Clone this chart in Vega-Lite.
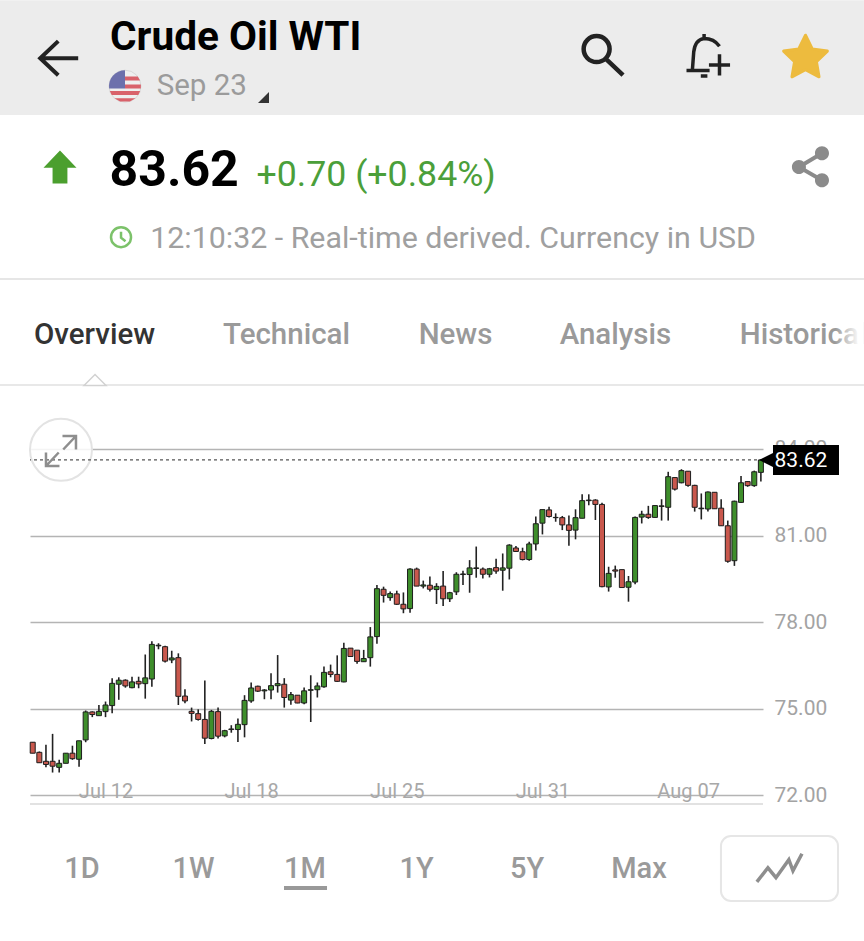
{
  "$schema": "https://vega.github.io/schema/vega-lite/v6.json",
  "width": 733,
  "height": 374,
  "autosize": "none",
  "padding": {"left": 30, "top": 430, "right": 101, "bottom": 137},
  "background": "#ffffff",
  "view": {"stroke": null},
  "data": {"name": "screen"},
  "datasets": {
    "screen": [{"name": "Crude Oil WTI"}],
    "candles": [
      {"bar":0,"open":73.84,"high":73.84,"low":73.46,"close":73.46},
      {"bar":1,"open":73.49,"high":73.52,"low":73.13,"close":73.13},
      {"bar":2,"open":73.18,"high":73.75,"low":72.97,"close":73.07},
      {"bar":3,"open":73.18,"high":74.13,"low":72.79,"close":73.01},
      {"bar":4,"open":72.97,"high":73.23,"low":72.79,"close":73.11},
      {"bar":5,"open":73.11,"high":73.46,"low":73.11,"close":73.46},
      {"bar":6,"open":73.46,"high":73.72,"low":73.23,"close":73.27},
      {"bar":7,"open":73.25,"high":73.89,"low":72.99,"close":73.89},
      {"bar":8,"open":73.92,"high":74.94,"low":73.84,"close":74.89},
      {"bar":9,"open":74.89,"high":74.91,"low":74.71,"close":74.80},
      {"bar":10,"open":74.76,"high":75.13,"low":74.76,"close":74.91},
      {"bar":11,"open":74.90,"high":75.25,"low":74.71,"close":75.13},
      {"bar":12,"open":75.11,"high":76.06,"low":74.84,"close":75.88},
      {"bar":13,"open":75.85,"high":76.09,"low":75.31,"close":75.99},
      {"bar":14,"open":75.99,"high":76.02,"low":75.73,"close":75.79},
      {"bar":15,"open":75.73,"high":76.11,"low":75.71,"close":75.93},
      {"bar":16,"open":75.95,"high":76.11,"low":75.71,"close":75.86},
      {"bar":17,"open":75.87,"high":76.88,"low":75.35,"close":76.07},
      {"bar":18,"open":76.03,"high":77.34,"low":75.76,"close":77.23},
      {"bar":19,"open":77.18,"high":77.27,"low":77.06,"close":77.20},
      {"bar":20,"open":77.15,"high":77.18,"low":76.60,"close":76.65},
      {"bar":21,"open":76.69,"high":77.01,"low":76.58,"close":76.76},
      {"bar":22,"open":76.77,"high":76.92,"low":75.13,"close":75.43},
      {"bar":23,"open":75.44,"high":75.68,"low":75.19,"close":75.27},
      {"bar":24,"open":74.91,"high":75.04,"low":74.56,"close":74.84},
      {"bar":25,"open":74.83,"high":74.98,"low":74.59,"close":74.63},
      {"bar":26,"open":74.63,"high":75.98,"low":73.78,"close":73.98},
      {"bar":27,"open":73.97,"high":74.96,"low":73.94,"close":74.91},
      {"bar":28,"open":74.90,"high":75.04,"low":73.97,"close":74.05},
      {"bar":29,"open":74.06,"high":74.27,"low":74.01,"close":74.24},
      {"bar":30,"open":74.28,"high":74.43,"low":74.17,"close":74.30},
      {"bar":31,"open":74.28,"high":74.66,"low":73.85,"close":74.46},
      {"bar":32,"open":74.45,"high":75.47,"low":74.01,"close":75.29},
      {"bar":33,"open":75.27,"high":75.91,"low":75.21,"close":75.72},
      {"bar":34,"open":75.78,"high":75.80,"low":75.58,"close":75.61},
      {"bar":35,"open":75.62,"high":75.68,"low":75.33,"close":75.65},
      {"bar":36,"open":75.65,"high":76.23,"low":75.33,"close":75.80},
      {"bar":37,"open":75.80,"high":76.86,"low":75.56,"close":75.87},
      {"bar":38,"open":75.85,"high":76.06,"low":75.04,"close":75.39},
      {"bar":39,"open":75.30,"high":75.58,"low":75.14,"close":75.49},
      {"bar":40,"open":75.47,"high":75.47,"low":75.19,"close":75.20},
      {"bar":41,"open":75.20,"high":75.74,"low":75.16,"close":75.62},
      {"bar":42,"open":75.64,"high":76.16,"low":74.54,"close":75.66},
      {"bar":43,"open":75.66,"high":75.91,"low":75.39,"close":75.79},
      {"bar":44,"open":75.76,"high":76.46,"low":75.73,"close":76.26},
      {"bar":45,"open":76.28,"high":76.53,"low":76.09,"close":76.19},
      {"bar":46,"open":76.19,"high":76.85,"low":75.93,"close":75.95},
      {"bar":47,"open":75.93,"high":77.29,"low":75.92,"close":77.09},
      {"bar":48,"open":77.10,"high":77.10,"low":76.81,"close":76.81},
      {"bar":49,"open":77.03,"high":77.03,"low":76.56,"close":76.64},
      {"bar":50,"open":76.63,"high":77.04,"low":76.63,"close":76.74},
      {"bar":51,"open":76.77,"high":77.83,"low":76.46,"close":77.49},
      {"bar":52,"open":77.50,"high":79.29,"low":77.25,"close":79.16},
      {"bar":53,"open":79.14,"high":79.23,"low":78.68,"close":78.93},
      {"bar":54,"open":78.85,"high":79.06,"low":78.74,"close":78.99},
      {"bar":55,"open":78.98,"high":79.09,"low":78.60,"close":78.62},
      {"bar":56,"open":78.62,"high":79.03,"low":78.31,"close":78.46},
      {"bar":57,"open":78.47,"high":79.87,"low":78.33,"close":79.84},
      {"bar":58,"open":79.84,"high":79.89,"low":79.25,"close":79.25},
      {"bar":59,"open":79.25,"high":79.44,"low":79.17,"close":79.29},
      {"bar":60,"open":79.28,"high":79.58,"low":79.06,"close":79.14},
      {"bar":61,"open":79.13,"high":79.35,"low":78.63,"close":79.24},
      {"bar":62,"open":79.25,"high":79.77,"low":78.56,"close":78.81},
      {"bar":63,"open":78.81,"high":79.05,"low":78.70,"close":79.02},
      {"bar":64,"open":79.05,"high":79.73,"low":78.94,"close":79.66},
      {"bar":65,"open":79.65,"high":79.78,"low":79.29,"close":79.67},
      {"bar":66,"open":79.65,"high":80.15,"low":79.02,"close":79.88},
      {"bar":67,"open":79.86,"high":80.62,"low":79.54,"close":79.88},
      {"bar":68,"open":79.84,"high":79.89,"low":79.51,"close":79.66},
      {"bar":69,"open":79.66,"high":79.88,"low":79.55,"close":79.85},
      {"bar":70,"open":79.89,"high":80.20,"low":79.68,"close":79.77},
      {"bar":71,"open":79.80,"high":80.38,"low":79.09,"close":79.88},
      {"bar":72,"open":79.87,"high":80.70,"low":79.48,"close":80.67},
      {"bar":73,"open":80.57,"high":80.64,"low":80.43,"close":80.45},
      {"bar":74,"open":80.44,"high":80.58,"low":80.14,"close":80.17},
      {"bar":75,"open":80.17,"high":80.79,"low":80.13,"close":80.71},
      {"bar":76,"open":80.71,"high":81.66,"low":80.48,"close":81.41},
      {"bar":77,"open":81.43,"high":81.90,"low":81.04,"close":81.90},
      {"bar":78,"open":81.89,"high":82.00,"low":81.63,"close":81.66},
      {"bar":79,"open":81.62,"high":81.77,"low":81.48,"close":81.63},
      {"bar":80,"open":81.62,"high":81.68,"low":81.19,"close":81.37},
      {"bar":81,"open":81.37,"high":81.70,"low":80.65,"close":81.18},
      {"bar":82,"open":81.19,"high":81.91,"low":80.87,"close":81.62},
      {"bar":83,"open":81.60,"high":82.43,"low":81.60,"close":82.21},
      {"bar":84,"open":82.21,"high":82.43,"low":82.05,"close":82.23},
      {"bar":85,"open":82.23,"high":82.26,"low":81.54,"close":82.08},
      {"bar":86,"open":82.08,"high":82.14,"low":79.21,"close":79.23},
      {"bar":87,"open":79.22,"high":79.92,"low":79.06,"close":79.69},
      {"bar":88,"open":79.81,"high":79.96,"low":79.54,"close":79.77},
      {"bar":89,"open":79.82,"high":79.82,"low":79.20,"close":79.20},
      {"bar":90,"open":79.21,"high":79.60,"low":78.71,"close":79.40},
      {"bar":91,"open":79.39,"high":81.66,"low":79.31,"close":81.63},
      {"bar":92,"open":81.64,"high":81.86,"low":81.42,"close":81.74},
      {"bar":93,"open":81.74,"high":82.03,"low":81.58,"close":81.63},
      {"bar":94,"open":81.63,"high":82.04,"low":81.63,"close":82.04},
      {"bar":95,"open":82.01,"high":82.26,"low":81.52,"close":82.03},
      {"bar":96,"open":81.98,"high":83.21,"low":81.52,"close":83.04},
      {"bar":97,"open":83.01,"high":83.01,"low":82.56,"close":82.61},
      {"bar":98,"open":82.83,"high":83.30,"low":82.81,"close":83.25},
      {"bar":99,"open":83.23,"high":83.23,"low":82.69,"close":82.74},
      {"bar":100,"open":82.74,"high":82.76,"low":81.83,"close":81.98},
      {"bar":101,"open":81.93,"high":82.46,"low":81.56,"close":81.95},
      {"bar":102,"open":81.92,"high":82.53,"low":81.83,"close":82.51},
      {"bar":103,"open":82.50,"high":82.50,"low":81.93,"close":81.93},
      {"bar":104,"open":81.95,"high":82.26,"low":81.34,"close":81.34},
      {"bar":105,"open":81.34,"high":81.52,"low":80.06,"close":80.11},
      {"bar":106,"open":80.13,"high":82.21,"low":79.95,"close":82.19},
      {"bar":107,"open":82.15,"high":83.06,"low":82.13,"close":82.83},
      {"bar":108,"open":82.87,"high":82.88,"low":82.69,"close":82.73},
      {"bar":109,"open":82.73,"high":83.25,"low":82.69,"close":83.21},
      {"bar":110,"open":83.19,"high":83.64,"low":82.87,"close":83.62}
    ]
  },
  "layer": [
    {
      "data": {"name": "candles"},
      "mark": {"type": "rule", "color": "#222222", "strokeWidth": 1.6},
      "encoding": {
        "x": {
          "field": "bar",
          "type": "quantitative",
          "scale": {"domain": [-0.41, 110.32], "nice": false, "zero": false, "padding": 0},
          "axis": {
            "title": null,
            "orient": "bottom",
            "grid": false,
            "domain": false,
            "ticks": false,
            "values": [11, 33, 55, 77, 99],
            "labelExpr": "datum.value == 11 ? 'Jul 12' : datum.value == 33 ? 'Jul 18' : datum.value == 55 ? 'Jul 25' : datum.value == 77 ? 'Jul 31' : 'Aug 07'",
            "labelFont": "Roboto",
            "labelFontSize": 20,
            "labelColor": "#a8a8a8",
            "labelBaseline": "alphabetic",
            "labelPadding": -7
          }
        },
        "y": {
          "field": "low",
          "type": "quantitative",
          "scale": {"domain": [71.7, 84.658], "nice": false, "zero": false},
          "axis": {
            "title": null,
            "orient": "right",
            "grid": true,
            "gridColor": "#b4b4b4",
            "gridWidth": 1.3,
            "domain": false,
            "ticks": false,
            "values": [72, 75, 78, 81, 84],
            "format": ".2f",
            "labelFont": "Roboto",
            "labelFontSize": 21,
            "labelColor": "#a3a3a3",
            "labelPadding": 11
          }
        },
        "y2": {"field": "high"}
      }
    },
    {
      "data": {"name": "candles"},
      "mark": {"type": "bar", "size": 5, "stroke": "#1d1d1d", "strokeWidth": 1},
      "encoding": {
        "x": {"field": "bar", "type": "quantitative"},
        "y": {"field": "open", "type": "quantitative"},
        "y2": {"field": "close"},
        "fill": {
          "condition": {"test": "datum.close >= datum.open", "value": "#3e8e2b"},
          "value": "#c9584d"
        }
      }
    },
    {
      "mark": {"type": "rule", "color": "#e2e2e2", "strokeWidth": 2},
      "encoding": {"y": {"datum": 71.7}}
    },
    {
      "mark": {"type": "point", "shape": "circle", "filled": true, "fill": "#ffffff", "fillOpacity": 0.85, "stroke": "#e3e3e3", "strokeWidth": 2, "size": 3844, "opacity": 1},
      "encoding": {"x": {"datum": 4.27}, "y": {"datum": 83.97}}
    },
    {
      "mark": {"type": "rule", "color": "#555555", "strokeWidth": 1.2, "strokeDash": [3, 3]},
      "encoding": {"y": {"datum": 83.62}}
    },
    {
      "mark": {"type": "point", "shape": "M0.15,-0.1 L1,-1 M0.1,-1 L1,-1 L1,-0.1 M-0.15,0.1 L-1,1 M-1,0.1 L-1,1 L-0.1,1", "filled": false, "stroke": "#8e8e8e", "strokeWidth": 2.5, "opacity": 1, "size": 900},
      "encoding": {"x": {"datum": 4.27}, "y": {"datum": 83.93}}
    },
    {
      "mark": {"type": "rect", "color": "#000000"},
      "encoding": {"x": {"datum": 111.83}, "x2": {"datum": 121.8}, "y": {"datum": 84.14}, "y2": {"datum": 83.1}}
    },
    {
      "mark": {"type": "point", "shape": "M1,-1 L1,1 L-1,0 Z", "filled": true, "fill": "#000000", "opacity": 1, "size": 324},
      "encoding": {"x": {"datum": 111.07}, "y": {"datum": 83.62}}
    },
    {
      "mark": {"type": "text", "text": "83.62", "font": "Roboto", "fontSize": 21, "color": "#ffffff", "align": "center", "baseline": "middle"},
      "encoding": {"x": {"datum": 116.05}, "y": {"datum": 83.6}}
    },
    {
      "mark": {"type": "rect", "color": "#ececec"},
      "encoding": {"x": {"datum": -4.94}, "x2": {"datum": 125.57}, "y": {"datum": 99.55}, "y2": {"datum": 95.57}}
    },
    {
      "mark": {"type": "rule", "color": "#e6e6e6", "strokeWidth": 2},
      "encoding": {"x": {"datum": -4.94}, "x2": {"datum": 125.57}, "y": {"datum": 89.89}}
    },
    {
      "mark": {"type": "rule", "color": "#e8e8e8", "strokeWidth": 2},
      "encoding": {"x": {"datum": -4.94}, "x2": {"datum": 125.57}, "y": {"datum": 86.22}}
    },
    {
      "mark": {"type": "point", "shape": "M-1,0.5 L0,-0.5 L1,0.5 Z", "filled": true, "fill": "#ffffff", "stroke": "#d2d2d2", "strokeWidth": 1.5, "opacity": 1, "size": 484},
      "encoding": {"x": {"datum": 9.41}, "y": {"datum": 86.39}}
    },
    {
      "mark": {"type": "text", "text": "Crude Oil WTI", "font": "Roboto", "fontWeight": "bold", "fontSize": 40.6, "color": "#000000", "align": "left", "baseline": "alphabetic"},
      "encoding": {"x": {"datum": 11.68}, "y": {"datum": 97.82}}
    },
    {
      "mark": {"type": "text", "text": "Sep 23", "font": "Roboto", "fontSize": 29.5, "color": "#9b9b9b", "align": "left", "baseline": "alphabetic"},
      "encoding": {"x": {"datum": 18.72}, "y": {"datum": 96.26}}
    },
    {
      "mark": {"type": "text", "text": "83.62", "font": "Roboto", "fontWeight": "bold", "fontSize": 50, "color": "#000000", "align": "left", "baseline": "alphabetic"},
      "encoding": {"x": {"datum": 11.6}, "y": {"datum": 93.11}}
    },
    {
      "mark": {"type": "text", "text": "+0.70 (+0.84%)", "font": "Roboto", "fontSize": 35.7, "color": "#4b9f3a", "align": "left", "baseline": "alphabetic"},
      "encoding": {"x": {"datum": 33.8}, "y": {"datum": 93.11}}
    },
    {
      "mark": {"type": "text", "text": "12:10:32 - Real-time derived. Currency in USD", "font": "Roboto", "fontSize": 30.35, "color": "#a0a0a0", "align": "left", "baseline": "alphabetic"},
      "encoding": {"x": {"datum": 17.75}, "y": {"datum": 90.96}}
    },
    {
      "mark": {"type": "text", "text": "Overview", "font": "Roboto", "fontWeight": 500, "fontSize": 29.5, "color": "#333333", "align": "left", "baseline": "alphabetic"},
      "encoding": {"x": {"datum": 0.2}, "y": {"datum": 87.64}}
    },
    {
      "mark": {"type": "text", "text": "Technical", "font": "Roboto", "fontWeight": 500, "fontSize": 29.5, "color": "#9a9a9a", "align": "left", "baseline": "alphabetic"},
      "encoding": {"x": {"datum": 28.75}, "y": {"datum": 87.64}}
    },
    {
      "mark": {"type": "text", "text": "News", "font": "Roboto", "fontWeight": 500, "fontSize": 29.5, "color": "#9a9a9a", "align": "left", "baseline": "alphabetic"},
      "encoding": {"x": {"datum": 58.3}, "y": {"datum": 87.64}}
    },
    {
      "mark": {"type": "text", "text": "Analysis", "font": "Roboto", "fontWeight": 500, "fontSize": 29.5, "color": "#9a9a9a", "align": "left", "baseline": "alphabetic"},
      "encoding": {"x": {"datum": 79.6}, "y": {"datum": 87.64}}
    },
    {
      "mark": {"type": "text", "text": "Historical", "font": "Roboto", "fontWeight": 500, "fontSize": 29.5, "color": "#9a9a9a", "align": "left", "baseline": "alphabetic"},
      "encoding": {"x": {"datum": 106.8}, "y": {"datum": 87.64}}
    },
    {
      "mark": {
        "type": "rect",
        "color": {
          "gradient": "linear",
          "x1": 0,
          "x2": 1,
          "y1": 0,
          "y2": 0,
          "stops": [{"offset": 0, "color": "rgba(255,255,255,0)"}, {"offset": 0.85, "color": "#ffffff"}, {"offset": 1, "color": "#ffffff"}]
        }
      },
      "encoding": {"x": {"datum": 121.18}, "x2": {"datum": 125.57}, "y": {"datum": 88.47}, "y2": {"datum": 87.43}}
    },
    {
      "mark": {"type": "text", "text": "1D", "font": "Roboto", "fontWeight": 500, "fontSize": 29, "color": "#9a9a9a", "align": "center", "baseline": "alphabetic"},
      "encoding": {"x": {"datum": 7.45}, "y": {"datum": 69.14}}
    },
    {
      "mark": {"type": "text", "text": "1W", "font": "Roboto", "fontWeight": 500, "fontSize": 29, "color": "#9a9a9a", "align": "center", "baseline": "alphabetic"},
      "encoding": {"x": {"datum": 24.3}, "y": {"datum": 69.14}}
    },
    {
      "mark": {"type": "text", "text": "1M", "font": "Roboto", "fontWeight": 500, "fontSize": 29, "color": "#9a9a9a", "align": "center", "baseline": "alphabetic"},
      "encoding": {"x": {"datum": 41.13}, "y": {"datum": 69.14}}
    },
    {
      "mark": {"type": "text", "text": "1Y", "font": "Roboto", "fontWeight": 500, "fontSize": 29, "color": "#9a9a9a", "align": "center", "baseline": "alphabetic"},
      "encoding": {"x": {"datum": 58.0}, "y": {"datum": 69.14}}
    },
    {
      "mark": {"type": "text", "text": "5Y", "font": "Roboto", "fontWeight": 500, "fontSize": 29, "color": "#9a9a9a", "align": "center", "baseline": "alphabetic"},
      "encoding": {"x": {"datum": 74.67}, "y": {"datum": 69.14}}
    },
    {
      "mark": {"type": "text", "text": "Max", "font": "Roboto", "fontWeight": 500, "fontSize": 29, "color": "#9a9a9a", "align": "center", "baseline": "alphabetic"},
      "encoding": {"x": {"datum": 91.59}, "y": {"datum": 69.14}}
    },
    {
      "mark": {"type": "rect", "color": "#999999"},
      "encoding": {"x": {"datum": 37.96}, "x2": {"datum": 44.46}, "y": {"datum": 68.86}, "y2": {"datum": 68.72}}
    },
    {
      "mark": {"type": "rect", "fill": "#ffffff", "stroke": "#e6e6e6", "strokeWidth": 2, "cornerRadius": 10},
      "encoding": {"x": {"datum": 103.97}, "x2": {"datum": 121.65}, "y": {"datum": 70.59}, "y2": {"datum": 68.34}}
    },
    {
      "mark": {"type": "point", "shape": "M-0.96,0.61 L-0.48,0 L-0.13,0.43 L0.43,-0.35 L0.61,0.13 L1,-0.61", "filled": false, "stroke": "#8e8e8e", "strokeWidth": 3.5, "opacity": 1, "size": 2116},
      "encoding": {"x": {"datum": 112.73}, "y": {"datum": 69.49}}
    },
    {
      "mark": {"type": "point", "shape": "M1,0 L-1,0 M-0.05,-0.9 L-1,0 L-0.05,0.9", "filled": false, "stroke": "#222222", "strokeWidth": 4, "opacity": 1, "size": 1444},
      "encoding": {"x": {"datum": 4.0}, "y": {"datum": 97.54}}
    },
    {
      "mark": {"type": "point", "shape": "circle", "filled": true, "fill": "#efefef", "stroke": "#d8d8d8", "strokeWidth": 1, "opacity": 1, "size": 1024},
      "encoding": {"x": {"datum": 13.94}, "y": {"datum": 96.57}}
    },
    {
      "mark": {"type": "point", "shape": "M0,-0.6 L0.8,-0.6 L0.94,-0.35 L0,-0.35 Z M0,-0.1 L0.995,-0.1 L0.99,0.15 L0,0.15 Z M-0.95,0.3 L0.95,0.3 L0.83,0.55 L-0.83,0.55 Z M-0.66,0.75 L0.66,0.75 L0.31,0.95 L-0.31,0.95 Z", "filled": true, "fill": "#d9626b", "opacity": 1, "size": 1024},
      "encoding": {"x": {"datum": 13.94}, "y": {"datum": 96.57}}
    },
    {
      "mark": {"type": "point", "shape": "M0,-1 L0,0.15 L-0.99,0.15 A1,1 0 0 1 0,-1 Z", "filled": true, "fill": "#6d70ac", "opacity": 1, "size": 1024},
      "encoding": {"x": {"datum": 13.94}, "y": {"datum": 96.57}}
    },
    {
      "mark": {"type": "point", "shape": "M-1,1 L1,1 L1,-1 Z", "filled": true, "fill": "#333333", "opacity": 1, "size": 121},
      "encoding": {"x": {"datum": 34.86}, "y": {"datum": 96.18}}
    },
    {
      "mark": {"type": "point", "shape": "M-0.88,-0.27 A0.59,0.59 0 1 1 0.3,-0.27 A0.59,0.59 0 1 1 -0.88,-0.27 M0.13,0.17 L0.91,0.91", "filled": false, "stroke": "#222222", "strokeWidth": 4.5, "opacity": 1, "size": 1936},
      "encoding": {"x": {"datum": 86.15}, "y": {"datum": 97.65}}
    },
    {
      "mark": {"type": "point", "shape": "M-0.95,0.7 L0.1,0.7 M-0.68,0.65 L-0.62,-0.15 Q-0.55,-0.7 -0.15,-0.75 Q0.3,-0.75 0.55,-0.4 M-0.15,-0.75 L-0.15,-0.95 M-0.3,0.95 L0,0.95 M0.55,-0.03 L0.55,0.93 M0.07,0.45 L1.03,0.45", "filled": false, "stroke": "#222222", "strokeWidth": 3.5, "opacity": 1, "size": 1936},
      "encoding": {"x": {"datum": 101.92}, "y": {"datum": 97.65}}
    },
    {
      "mark": {"type": "point", "shape": "M0,-1 L0.294,-0.405 L0.951,-0.309 L0.476,0.155 L0.588,0.809 L0,0.5 L-0.588,0.809 L-0.476,0.155 L-0.951,-0.309 L-0.294,-0.405 Z", "filled": true, "fill": "#edbb3e", "stroke": "#edbb3e", "strokeWidth": 3, "strokeJoin": "round", "opacity": 1, "size": 2116},
      "encoding": {"x": {"datum": 116.74}, "y": {"datum": 97.54}}
    },
    {
      "mark": {"type": "point", "shape": "M0,-1 L1,0.05 L0.45,0.05 L0.45,1 L-0.45,1 L-0.45,0.05 L-1,0.05 Z", "filled": true, "fill": "#4b9f2e", "opacity": 1, "size": 1089},
      "encoding": {"x": {"datum": 4.12}, "y": {"datum": 93.77}}
    },
    {
      "mark": {"type": "point", "shape": "M0.61,-0.72 L-0.67,0.05 L0.61,0.78", "filled": false, "stroke": "#8b8b8b", "strokeWidth": 4, "opacity": 1, "size": 1296},
      "encoding": {"x": {"datum": 117.57}, "y": {"datum": 93.8}}
    },
    {
      "mark": {"type": "point", "shape": "M0.22,-0.72 A0.39,0.39 0 1 1 1,-0.72 A0.39,0.39 0 1 1 0.22,-0.72 Z M-1.06,0.05 A0.39,0.39 0 1 1 -0.28,0.05 A0.39,0.39 0 1 1 -1.06,0.05 Z M0.22,0.78 A0.39,0.39 0 1 1 1,0.78 A0.39,0.39 0 1 1 0.22,0.78 Z", "filled": true, "fill": "#8b8b8b", "opacity": 1, "size": 1296},
      "encoding": {"x": {"datum": 117.57}, "y": {"datum": 93.8}}
    },
    {
      "mark": {"type": "point", "shape": "M-1,0 A1,1 0 1 1 1,0 A1,1 0 1 1 -1,0 M0,-0.55 L0,0.05 L0.45,0.4", "filled": false, "stroke": "#7cc26a", "strokeWidth": 2.5, "opacity": 1, "size": 400},
      "encoding": {"x": {"datum": 13.34}, "y": {"datum": 91.34}}
    }
  ]
}
